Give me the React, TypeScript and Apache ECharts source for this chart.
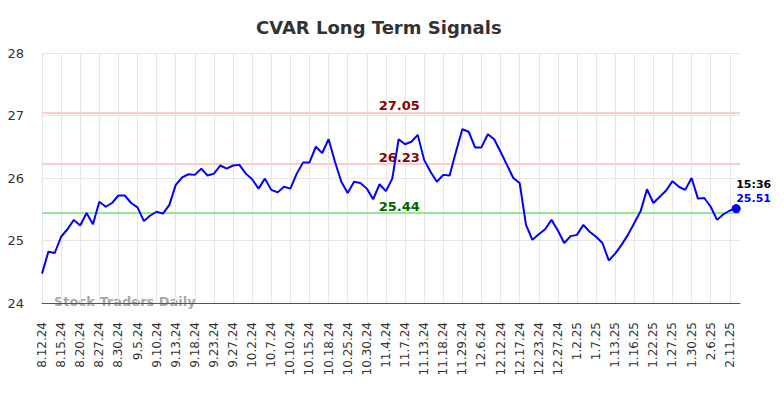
import React, { useEffect, useRef } from "react";
import * as echarts from "echarts";

const titleText = "CVAR Long Term Signals";
const watermark = "Stock Traders Daily";

const dateLabels = [
  "8.12.24", "8.15.24", "8.20.24", "8.27.24", "8.30.24", "9.5.24", "9.10.24", "9.13.24",
  "9.18.24", "9.23.24", "9.27.24", "10.2.24", "10.7.24", "10.10.24", "10.15.24", "10.18.24",
  "10.25.24", "10.30.24", "11.4.24", "11.7.24", "11.13.24", "11.18.24", "11.29.24", "12.6.24",
  "12.12.24", "12.17.24", "12.23.24", "12.27.24", "1.2.25", "1.7.25", "1.13.25", "1.16.25",
  "1.22.25", "1.27.25", "1.30.25", "2.6.25", "2.11.25",
];
const labelStep = 3;

const prices = [
  24.47, 24.82, 24.80, 25.06, 25.18, 25.33, 25.24, 25.44, 25.26, 25.62,
  25.54, 25.60, 25.72, 25.72, 25.60, 25.53, 25.31, 25.40, 25.46, 25.43,
  25.57, 25.89, 26.01, 26.06, 26.05, 26.15, 26.04, 26.07, 26.20, 26.15,
  26.20, 26.21, 26.07, 25.98, 25.83, 25.99, 25.81, 25.77, 25.86, 25.83,
  26.07, 26.25, 26.25, 26.50, 26.40, 26.62, 26.26, 25.94, 25.76, 25.94,
  25.92, 25.83, 25.66, 25.90, 25.79, 25.99, 26.62, 26.54, 26.58, 26.69,
  26.29, 26.10, 25.94, 26.05, 26.04, 26.42, 26.78, 26.74, 26.49, 26.49,
  26.70, 26.62, 26.42, 26.21, 26.00, 25.92, 25.25, 25.01, 25.10, 25.18,
  25.33, 25.16, 24.96, 25.07, 25.09, 25.25, 25.14, 25.06, 24.96, 24.68,
  24.79, 24.93, 25.09, 25.28, 25.47, 25.82, 25.60, 25.70, 25.80, 25.95,
  25.86, 25.81, 26.00, 25.67, 25.68, 25.54, 25.33, 25.42, 25.48, 25.51,
];

const upperLevels = [27.05, 26.23];
const lowerLevels = [25.44];
const lastTime = "15:36";

const yMin = 24;
const yMax = 28;
const yStep = 1;
const xMaxPad = 109.6;
const levelLabelIndex = 56.1;

export default function App() {
  const ref = useRef<HTMLDivElement>(null);

  useEffect(() => {
    if (!ref.current) return;
    const chart = echarts.init(ref.current, undefined, { renderer: "svg" });
    const font = "DejaVu Sans";
    const lastIdx = prices.length - 1;
    const lineData = prices.map((v, i) => [i, v]);

    const levelMarkLines = [
      ...upperLevels.map((v) => ({ yAxis: v, lineStyle: { color: "#ffcccc", width: 2, type: "solid" } })),
      ...lowerLevels.map((v) => ({ yAxis: v, lineStyle: { color: "#99e699", width: 2, type: "solid" } })),
    ];
    const levelLabels = [
      ...upperLevels.map((v) => ({ coord: [levelLabelIndex, v], value: v, color: "#8b0000" })),
      ...lowerLevels.map((v) => ({ coord: [levelLabelIndex, v], value: v, color: "#006400" })),
    ];

    chart.setOption({
      animation: false,
      backgroundColor: "#ffffff",
      textStyle: { fontFamily: font },
      title: {
        text: titleText,
        left: 251,
        top: 13,
        textStyle: { fontFamily: font, fontSize: 18, fontWeight: "bold", color: "#333333" },
      },
      grid: { left: 42, right: 44, top: 53, bottom: 95, containLabel: false },
      graphic: [
        {
          type: "text",
          left: 54,
          top: 295,
          z: -1,
          style: {
            text: watermark,
            fill: "rgba(150,150,150,0.85)",
            font: `bold 13px "${font}"`,
          },
        },
      ],
      xAxis: {
        type: "value",
        min: 0,
        max: xMaxPad,
        interval: labelStep,
        axisLine: { show: true, onZero: false, lineStyle: { color: "#555555", width: 1 } },
        axisTick: { show: false },
        splitLine: { show: true, showMaxLine: false, lineStyle: { color: "#e6e6e6", width: 1 } },
        axisLabel: {
          rotate: 90,
          margin: 19,
          fontSize: 12,
          color: "#333333",
          fontFamily: font,
          showMaxLabel: false,
          formatter: (v: number) => {
            if (Math.abs(v - Math.round(v)) > 1e-6) return "";
            const r = Math.round(v);
            if (r % labelStep !== 0) return "";
            return dateLabels[r / labelStep] ?? "";
          },
        },
      },
      yAxis: {
        type: "value",
        min: yMin,
        max: yMax,
        interval: yStep,
        axisLine: { show: false },
        axisTick: { show: false },
        splitLine: { show: true, lineStyle: { color: "#e6e6e6", width: 1 } },
        axisLabel: { fontSize: 13, color: "#333333", margin: 18, fontFamily: font },
      },
      series: [
        {
          type: "line",
          data: lineData,
          showSymbol: false,
          lineStyle: { color: "#0000ff", width: 2 },
          itemStyle: { color: "#0000ff" },
          z: 5,
          markLine: {
            silent: true,
            symbol: ["none", "none"],
            label: { show: false },
            data: levelMarkLines,
            z: 2,
          },
          markPoint: {
            silent: true,
            data: [
              ...levelLabels.map((d) => ({
                coord: d.coord,
                value: d.value,
                symbol: "circle",
                symbolSize: 0,
                label: {
                  show: true,
                  position: "top",
                  distance: 0,
                  fontSize: 13,
                  fontWeight: "bold",
                  fontFamily: font,
                  color: d.color,
                  formatter: (p: any) => Number(p.value).toFixed(2),
                },
              })),
              {
                coord: [lastIdx, prices[lastIdx]],
                value: prices[lastIdx],
                symbol: "circle",
                symbolSize: 9,
                itemStyle: { color: "#0000ff" },
                label: {
                  show: true,
                  position: [4.5, -27],
                  align: "left",
                  verticalAlign: "top",
                  fontFamily: font,
                  formatter: (p: any) => `{t|${lastTime}}\n{v|${Number(p.value).toFixed(2)}}`,
                  rich: {
                    t: { fontSize: 11, fontWeight: "bold", color: "#000000", lineHeight: 14, fontFamily: font },
                    v: { fontSize: 11, fontWeight: "bold", color: "#0000ff", lineHeight: 14, fontFamily: font },
                  },
                },
              },
            ],
          },
        },
      ],
    } as any);

    return () => chart.dispose();
  }, []);

  return (
    <div
      ref={ref}
      style={{ position: "fixed", left: 0, top: 0, width: 784, height: 398 }}
    />
  );
}
